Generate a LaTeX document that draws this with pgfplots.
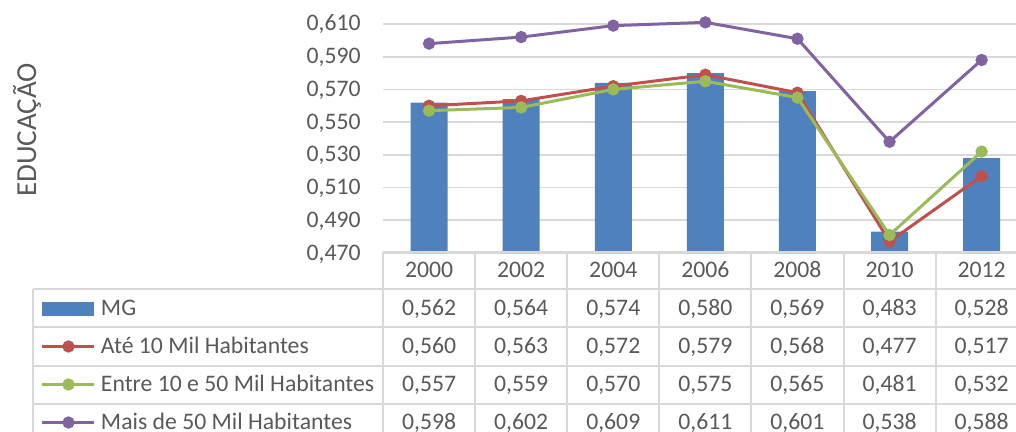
\documentclass[border=0pt]{standalone}
\usepackage{fontspec}
\setmainfont{Carlito}
\usepackage{pgfplots}
\usepackage{pgfplotstable}
\pgfplotsset{compat=1.18}

\definecolor{mgblue}{HTML}{4F81BD}
\definecolor{seriesred}{HTML}{C0504D}
\definecolor{seriesgreen}{HTML}{9BBB59}
\definecolor{seriespurple}{HTML}{8064A2}
\definecolor{txt}{HTML}{595959}
\definecolor{gridc}{HTML}{D9D9D9}

% Índice de educação por porte de município
\pgfplotstableread{
x year mg ate entre mais
0 2000 0.562 0.560 0.557 0.598
1 2002 0.564 0.563 0.559 0.602
2 2004 0.574 0.572 0.570 0.609
3 2006 0.580 0.579 0.575 0.611
4 2008 0.569 0.568 0.565 0.601
5 2010 0.483 0.477 0.481 0.538
6 2012 0.528 0.517 0.532 0.588
}\datatable

\pgfkeys{/pgf/number format/tabnum/.style={fixed, fixed zerofill, precision=3, use comma, assume math mode=true}}

\begin{document}
\fontsize{11.85pt}{14pt}\selectfont
\begin{tikzpicture}
% moldura da figura (1 px = 0.5 pt, y para baixo)
\path[use as bounding box, clip] (0pt,0pt) rectangle (508pt,-216pt);

\begin{axis}[
  at={(191.5pt,-126.5pt)}, anchor=south west,
  scale only axis, width=322.35pt, height=114.5pt,
  xmin=-0.5, xmax=6.5, ymin=0.470, ymax=0.610,
  ytick={0.470,0.490,0.510,0.530,0.550,0.570,0.590,0.610},
  xtick=\empty,
  ymajorgrids, grid style={gridc, line width=0.85pt},
  axis line style={draw=none},
  major tick length=0pt,
  clip=false,
  y tick label style={text=txt, anchor=east, inner sep=0pt, xshift=-11pt,
    text height=9pt, text depth=2pt,
    /pgf/number format/.cd, tabnum},
  legend style={draw=none, fill=none, inner sep=0pt, outer sep=0pt,
    at={(-0.53048,-0.21179)}, anchor=north west,
    row sep=12pt, column sep=2.5pt,
    nodes={inner sep=0pt, text=txt, text height=7pt, text depth=0pt, anchor=west}},
  legend cell align=left,
  legend image code/.code={\draw[mark repeat=2,mark phase=2] plot coordinates {(0pt,0pt) (13pt,0pt) (26pt,0pt)};},
]
\addplot[ybar, bar width=18.5pt, bar shift=0pt, fill=mgblue, draw=none,
  legend image code/.code={\fill[mgblue] (0pt,-3.5pt) rectangle (26pt,3.5pt);}]
  table[x=x, y=mg] {\datatable};
\addlegendentry{MG}
\addplot[seriesred, line width=1.5pt, mark=*, mark size=2.3pt, mark options={solid}]
  table[x=x, y=ate] {\datatable};
\addlegendentry{Até 10 Mil Habitantes}
\addplot[seriesgreen, line width=1.5pt, mark=*, mark size=2.3pt, mark options={solid}]
  table[x=x, y=entre] {\datatable};
\addlegendentry{Entre 10 e 50 Mil Habitantes}
\addplot[seriespurple, line width=1.5pt, mark=*, mark size=2.3pt, mark options={solid}]
  table[x=x, y=mais] {\datatable};
\addlegendentry{Mais de 50 Mil Habitantes}
\end{axis}

\begin{scope}[x=0.5pt,y=-0.5pt]
  % eixo vertical: título
  \node[rotate=90, text=txt, font=\fontsize{14.5pt}{17pt}\selectfont] at (27,130) {EDUCAÇÃO};
  % grade da tabela de dados
  \begin{scope}[draw=gridc, line width=1pt]
    \draw (383,252.5) -- (1040,252.5);
    \foreach \yy in {289.5,327.5,365.5,403.5,441.5} {\draw (33,\yy) -- (1040,\yy);}
    \draw (33,289.5) -- (33,450);
    \foreach \k in {0,...,7} {\draw ({383+92.1*\k},252.5) -- ({383+92.1*\k},450);}
  \end{scope}
  % conteúdo da tabela
  \tikzset{cell/.style={inner sep=0pt, text=txt, text height=7pt, text depth=0pt, anchor=center}}
  \foreach \r in {0,...,6} {
    \pgfmathsetmacro{\cx}{429.05+92.1*\r}
    \pgfplotstablegetelem{\r}{year}\of\datatable
    \node[cell] at (\cx,270.75) {\pgfplotsretval};
    \pgfplotstablegetelem{\r}{mg}\of\datatable
    \node[cell] at (\cx,308.5) {\pgfmathprintnumber[tabnum]{\pgfplotsretval}};
    \pgfplotstablegetelem{\r}{ate}\of\datatable
    \node[cell] at (\cx,346.5) {\pgfmathprintnumber[tabnum]{\pgfplotsretval}};
    \pgfplotstablegetelem{\r}{entre}\of\datatable
    \node[cell] at (\cx,384.5) {\pgfmathprintnumber[tabnum]{\pgfplotsretval}};
    \pgfplotstablegetelem{\r}{mais}\of\datatable
    \node[cell] at (\cx,422.5) {\pgfmathprintnumber[tabnum]{\pgfplotsretval}};
  }
\end{scope}
\end{tikzpicture}
\end{document}
